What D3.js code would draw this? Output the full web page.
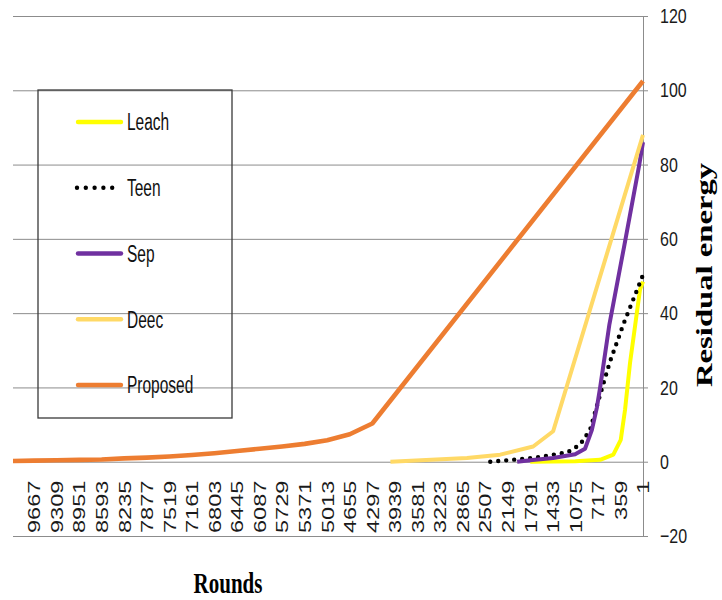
<!DOCTYPE html>
<html lang="en">
<head>
<meta charset="UTF-8">
<title>Residual energy vs rounds</title>
<style>
    body {
        margin: 0;
        background: #ffffff;
        overflow: hidden;
    }
    svg {
        display: block;
        font-family: "Liberation Sans", Arial, sans-serif;
    }
</style>
</head>
<body>
<svg id="chart" width="722" height="600"></svg>
<script src="https://d3js.org/d3.v7.min.js"></script>
<script>
// x axis labels (rounds, shown right to left)
const roundLabels = [9667, 9309, 8951, 8593, 8235, 7877, 7519, 7161, 6803, 6445, 6087, 5729, 5371, 5013,
    4655, 4297, 3939, 3581, 3223, 2865, 2507, 2149, 1791, 1433, 1075, 717, 359, 1];
const yTicks = [-20, 0, 20, 40, 60, 80, 100, 120];

// series (round -> residual energy)
const leachRounds = [1791, 1075, 682, 472, 354, 286, 207, 128, 49, 1];
const leachValues = [0, 0.1, 0.5, 1.9, 5.9, 14, 26.6, 36.4, 46.3, 48.5];

const teenRounds = [2425, 1744, 1205, 999, 841, 735, 630, 524, 418, 313, 207, 101, 1];
const teenValues = [0, 1, 2.5, 4.6, 8.6, 14.9, 21, 27, 32, 37, 41.5, 46, 50.3];

const sepRounds = [1998, 1791, 1427, 1078, 921, 813, 734, 681, 534, 300, 60, 1];
const sepValues = [0, 0.4, 1, 2, 3.5, 8.5, 14.5, 20, 37, 58, 80, 86];

const deecRounds = [4010, 2795, 2267, 1744, 1427, 1];
const deecValues = [0, 1, 1.9, 4.1, 8.2, 88];

const proposedRounds = [10000, 9667, 9309, 8951, 8593, 8235, 7877, 7519, 7161, 6803, 6445, 6087, 5729,
    5371, 5013, 4655, 4297, 1];
const proposedValues = [0.2, 0.3, 0.4, 0.5, 0.6, 0.9, 1.1, 1.4, 1.8, 2.3, 2.9, 3.5, 4.1,
    4.8, 5.8, 7.4, 10.3, 102.5];

const seriesNames = ["Leach", "Teen", "Sep", "Deec", "Proposed"];
const seriesColors = ["#FFFF00", "#000000", "#7030A0", "#FFD966", "#ED7D31"];

const series = [
    { name: "Leach", rounds: leachRounds, values: leachValues },
    { name: "Teen", rounds: teenRounds, values: teenValues },
    { name: "Sep", rounds: sepRounds, values: sepValues },
    { name: "Deec", rounds: deecRounds, values: deecValues },
    { name: "Proposed", rounds: proposedRounds, values: proposedValues }
];

const svg = d3.select("#chart");
const plotLeft = 13, plotRight = 643, plotTop = 16, plotBottom = 536;
const stretch = 1.4; // the original picture is stretched vertically

const x = d3.scaleLinear().domain([10000, 1]).range([plotLeft, plotRight]);
const y = d3.scaleLinear().domain([-20, 120]).range([plotBottom, plotTop]);
const color = d3.scaleOrdinal().domain(seriesNames).range(seriesColors);

// gridlines
svg.append("g")
    .attr("transform", `translate(${plotRight},0)`)
    .call(d3.axisLeft(y).tickValues(yTicks).tickSize(plotRight - plotLeft).tickFormat(""))
    .call(g => g.select(".domain").remove())
    .call(g => g.selectAll("line").attr("stroke", "#8c8c8c").attr("stroke-width", 1));

// right value axis
svg.append("g")
    .attr("transform", `translate(${plotRight},0)`)
    .call(d3.axisRight(y).tickValues(yTicks).tickSize(5).tickPadding(12))
    .call(g => g.select(".domain").attr("stroke", "#8c8c8c"))
    .call(g => g.selectAll("line").attr("stroke", "#8c8c8c"))
    .call(g => g.selectAll("text")
        .attr("font-family", "'Liberation Sans', Arial, sans-serif")
        .attr("font-size", 16)
        .attr("fill", "#1a1a1a")
        .attr("transform", "scale(1,1.3)"));

// category axis at zero
svg.append("g")
    .attr("transform", `translate(0,${y(0)})`)
    .call(d3.axisBottom(x).tickValues(roundLabels).tickSize(0).tickFormat(d3.format("d")))
    .call(g => g.select(".domain").remove())
    .call(g => g.selectAll("text")
        .attr("font-family", "'Liberation Sans', Arial, sans-serif")
        .attr("font-size", 16.8)
        .attr("fill", "#1a1a1a")
        .attr("text-anchor", "end")
        .attr("x", 0)
        .attr("y", 0)
        .attr("dy", "0.35em")
        .attr("transform", `translate(0,19) rotate(-90) scale(${stretch},1)`));

// lines
const line = d3.line()
    .x(d => x(d[0]))
    .y(d => y(d[1]));

svg.append("g")
    .selectAll("path")
    .data(series)
    .join("path")
    .attr("d", s => line(s.rounds.map((r, i) => [r, s.values[i]])))
    .attr("fill", "none")
    .attr("stroke", s => color(s.name))
    .attr("stroke-width", s => s.name === "Proposed" ? 4.6 : s.name === "Teen" ? 4.4 : 4)
    .attr("stroke-linejoin", "round")
    .attr("stroke-linecap", s => s.name === "Teen" ? "round" : "butt")
    .attr("stroke-dasharray", s => s.name === "Teen" ? "0 8" : null);

// legend
const legend = svg.append("g");
legend.append("rect")
    .attr("x", 38).attr("y", 90)
    .attr("width", 194).attr("height", 328)
    .attr("fill", "none")
    .attr("stroke", "#3a3a3a")
    .attr("stroke-width", 1.3);

const legendY = d3.scalePoint().domain(seriesNames).range([122, 385]);

const item = legend.selectAll("g.item")
    .data(seriesNames)
    .join("g")
    .attr("class", "item")
    .attr("transform", d => `translate(0,${legendY(d)})`);

item.append("line")
    .attr("x1", d => d === "Teen" ? 77 : 78)
    .attr("x2", 121)
    .attr("stroke", d => color(d))
    .attr("stroke-width", 4.4)
    .attr("stroke-linecap", "round")
    .attr("stroke-dasharray", d => d === "Teen" ? "0 8.8" : null);

item.append("text")
    .attr("transform", `translate(127,0) scale(1,1.5)`)
    .attr("dy", "0.36em")
    .attr("font-family", "'Liberation Sans', Arial, sans-serif")
    .attr("font-size", 15.5)
    .attr("fill", "#111")
    .text(d => d);

// axis titles
svg.append("text")
    .attr("transform", `translate(228,593) scale(1,${stretch})`)
    .attr("text-anchor", "middle")
    .attr("font-family", "'Liberation Serif', 'Times New Roman', serif")
    .attr("font-weight", "bold")
    .attr("font-size", 21)
    .text("Rounds");

svg.append("text")
    .attr("transform", `translate(712,387) rotate(-90) scale(1.44,1)`)
    .attr("text-anchor", "start")
    .attr("font-family", "'Liberation Serif', 'Times New Roman', serif")
    .attr("font-weight", "bold")
    .attr("font-size", 22.7)
    .text("Residual energy");
</script>
</body>
</html>
